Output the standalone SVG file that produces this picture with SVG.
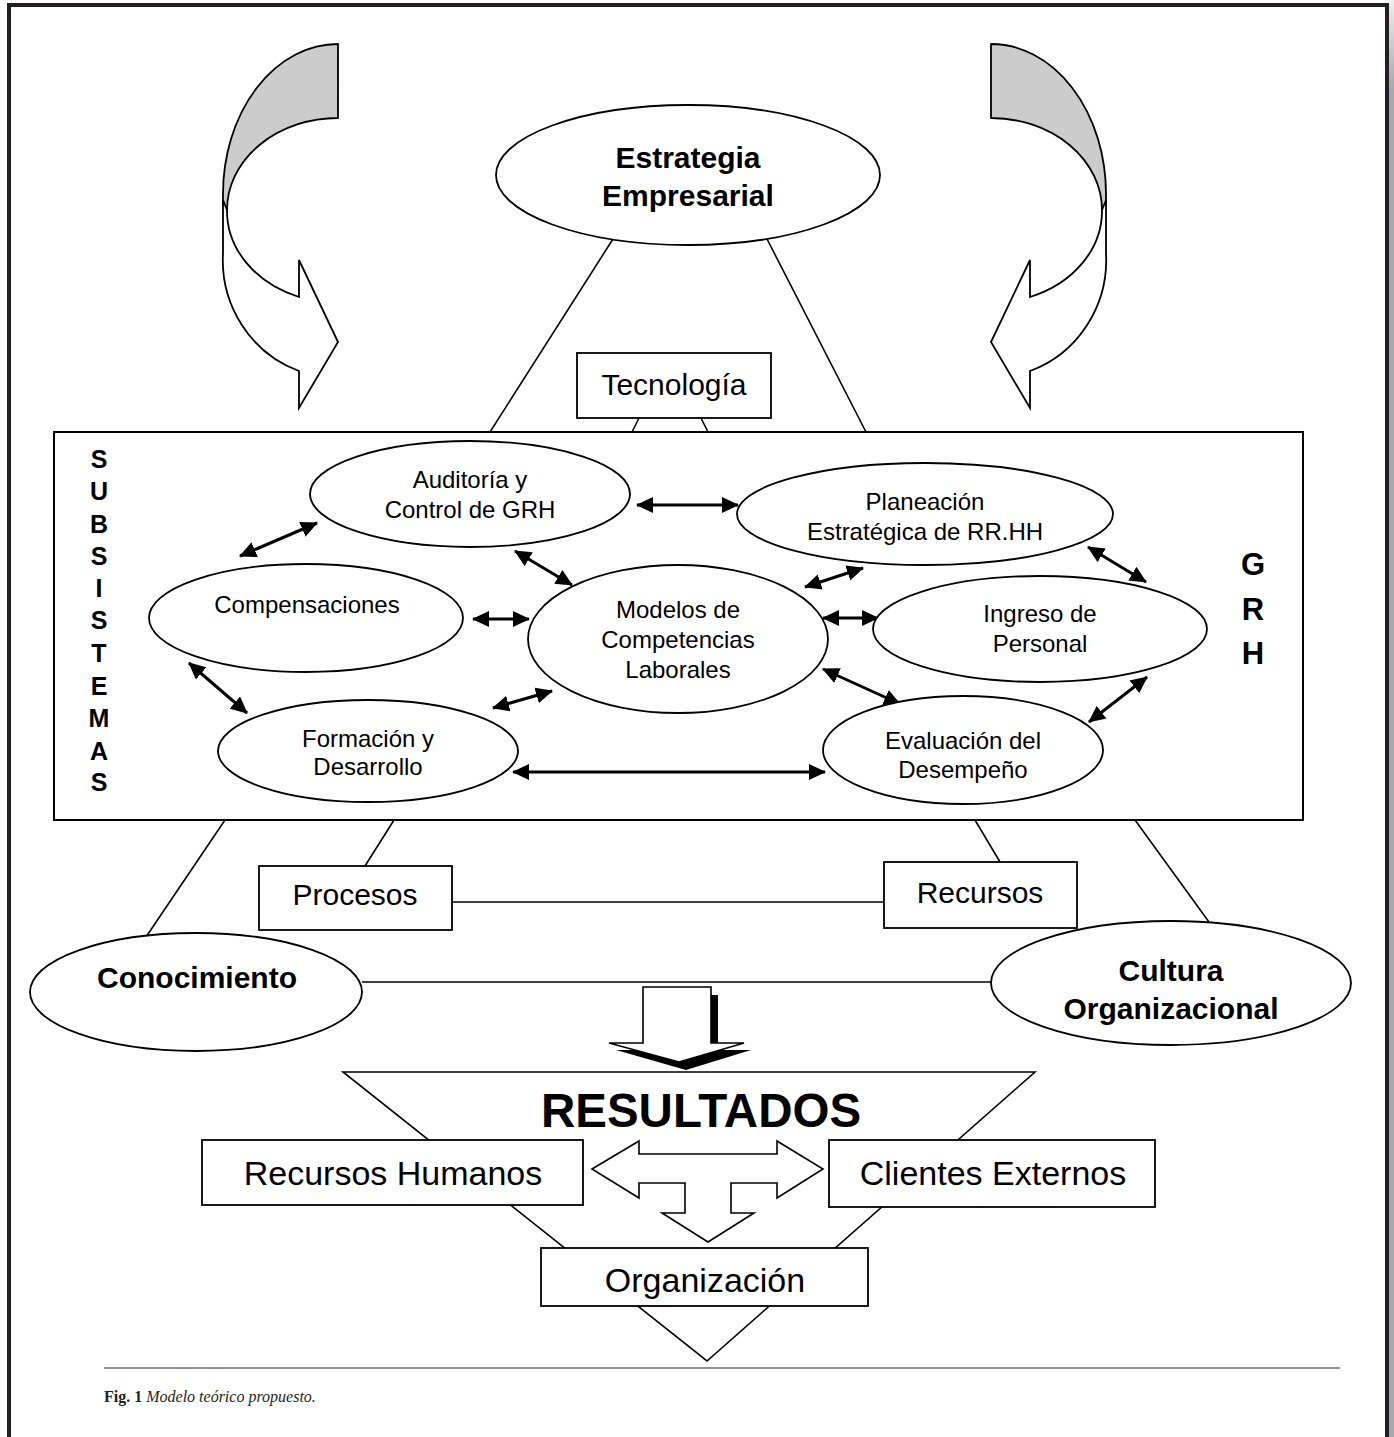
<svg xmlns="http://www.w3.org/2000/svg" xmlns:xlink="http://www.w3.org/1999/xlink" width="1394" height="1437" viewBox="0 0 1394 1437">
<style>
.ln{stroke:#000;stroke-width:1.6;fill:none}
.ar{stroke:#000;stroke-width:3;fill:none;marker-start:url(#ah);marker-end:url(#ah)}
.el{fill:#fff;stroke:#000;stroke-width:1.8}
.bx{fill:#fff;stroke:#000;stroke-width:1.8}
.t{font-family:"Liberation Sans",Arial,sans-serif;fill:#000;text-anchor:middle}
.s24{font-size:24px}
.s30{font-size:30px}
.s34{font-size:34px}
.b{font-weight:bold}
.gray{fill:#cccccc;stroke:#000;stroke-width:1.8;stroke-linejoin:round}
.wh{fill:#fff;stroke:#000;stroke-width:1.8;stroke-linejoin:miter}
</style>
<defs>
<marker id="ah" viewBox="0 0 17 16" markerWidth="17" markerHeight="16" refX="16" refY="8" orient="auto-start-reverse" markerUnits="userSpaceOnUse">
<path d="M0,0 L17,8 L0,16 Z" fill="#000"/>
</marker>
<linearGradient id="shade" x1="0" y1="0" x2="0" y2="1">
<stop offset="0" stop-color="#f0f0f0"/>
<stop offset="0.06" stop-color="#a7a9ac"/>
<stop offset="1" stop-color="#a7a9ac"/>
</linearGradient>
<g id="curv">
<path class="gray" d="M338,44 A115,150 0 0 0 223,194 L223,205 L227,210 A111,92 0 0 1 338,118 Z"/>
<path class="wh" d="M227,210 A111,92 0 0 0 299,297 L299,260 L338,342 L299,408 L299,371 A115,118 0 0 1 223,253 L223,200 Z"/>
</g>
</defs>

<rect width="1394" height="1437" fill="#fff"/>
<g id="frame">
<rect x="1389" y="0" width="5" height="1437" fill="url(#shade)"/>
<path d="M9,1437 V5 H1387 V1437" fill="none" stroke="#231f20" stroke-width="4"/>
</g>

<g id="curved-arrow-left"><use xlink:href="#curv"/></g>
<g id="curved-arrow-right"><use xlink:href="#curv" transform="matrix(-1 0 0 1 1329 0)"/></g>

<g id="resultados-triangle">
<polygon points="343,1072 1035,1072 707,1361" fill="#fff" stroke="#000" stroke-width="1.6"/>
<text class="t b" x="701" y="1127" font-size="47.5">RESULTADOS</text>
</g>

<g id="grh">
<rect x="54" y="432" width="1249" height="388" fill="none" stroke="#000" stroke-width="2"/>
<g class="t b" font-size="25">
<text x="99" y="468">S</text><text x="99" y="500">U</text><text x="99" y="533">B</text><text x="99" y="565">S</text><text x="99" y="597">I</text><text x="99" y="629">S</text><text x="99" y="662">T</text><text x="99" y="695">E</text><text x="99" y="727">M</text><text x="99" y="760">A</text><text x="99" y="791">S</text>
</g>
<g class="t b" font-size="31">
<text x="1253" y="575">G</text><text x="1253" y="620">R</text><text x="1253" y="664">H</text>
</g>
</g>

<g id="connectors">
<line class="ln" x1="613" y1="239" x2="490" y2="432"/>
<line class="ln" x1="767" y1="239" x2="866" y2="432"/>
<line class="ln" x1="639" y1="418" x2="632" y2="432"/>
<line class="ln" x1="701" y1="418" x2="708" y2="432"/>
<line class="ln" x1="225" y1="820" x2="146" y2="937"/>
<line class="ln" x1="394" y1="820" x2="365" y2="866"/>
<line class="ln" x1="975" y1="820" x2="1000" y2="862"/>
<line class="ln" x1="1135" y1="820" x2="1209" y2="922"/>
<line class="ln" x1="452" y1="902" x2="884" y2="902"/>
<line class="ln" x1="362" y1="982" x2="991" y2="982"/>
<line class="ar" x1="240" y1="556" x2="317" y2="523"/>
<line class="ar" x1="637" y1="505" x2="738" y2="505"/>
<line class="ar" x1="515" y1="551" x2="572" y2="585"/>
<line class="ar" x1="805" y1="587" x2="863" y2="568"/>
<line class="ar" x1="473" y1="619" x2="529" y2="619"/>
<line class="ar" x1="823" y1="618" x2="878" y2="618"/>
<line class="ar" x1="1088" y1="547" x2="1146" y2="582"/>
<line class="ar" x1="823" y1="669" x2="900" y2="704"/>
<line class="ar" x1="1147" y1="677" x2="1089" y2="722"/>
<line class="ar" x1="189" y1="663" x2="247" y2="713"/>
<line class="ar" x1="493" y1="708" x2="552" y2="691"/>
<line class="ar" x1="513" y1="772" x2="825" y2="772"/>
</g>

<g id="estrategia">
<ellipse class="el" cx="688" cy="175" rx="192" ry="70"/>
<text class="t b s30" x="688" y="168">Estrategia</text>
<text class="t b s30" x="688" y="206">Empresarial</text>
</g>

<g id="tecnologia">
<rect class="bx" x="577" y="353" width="194" height="65"/>
<text class="t s30" x="674" y="395">Tecnología</text>
</g>

<g id="auditoria">
<ellipse class="el" cx="470" cy="494" rx="160" ry="53"/>
<text class="t s24" x="470" y="488">Auditoría y</text>
<text class="t s24" x="470" y="518">Control de GRH</text>
</g>

<g id="planeacion">
<ellipse class="el" cx="925" cy="514" rx="188" ry="51"/>
<text class="t s24" x="925" y="510">Planeación</text>
<text class="t s24" x="925" y="540">Estratégica de RR.HH</text>
</g>

<g id="compensaciones">
<ellipse class="el" cx="306" cy="618" rx="157" ry="54"/>
<text class="t s24" x="307" y="613">Compensaciones</text>
</g>

<g id="modelos">
<ellipse class="el" cx="678" cy="639" rx="150" ry="74"/>
<text class="t s24" x="678" y="618">Modelos de</text>
<text class="t s24" x="678" y="648">Competencias</text>
<text class="t s24" x="678" y="678">Laborales</text>
</g>

<g id="ingreso">
<ellipse class="el" cx="1040" cy="629" rx="167" ry="53"/>
<text class="t s24" x="1040" y="622">Ingreso de</text>
<text class="t s24" x="1040" y="652">Personal</text>
</g>

<g id="formacion">
<ellipse class="el" cx="368" cy="751" rx="150" ry="51"/>
<text class="t s24" x="368" y="747">Formación y</text>
<text class="t s24" x="368" y="775">Desarrollo</text>
</g>

<g id="evaluacion">
<ellipse class="el" cx="963" cy="750" rx="140" ry="54"/>
<text class="t s24" x="963" y="749">Evaluación del</text>
<text class="t s24" x="963" y="778">Desempeño</text>
</g>

<g id="procesos">
<rect class="bx" x="259" y="866" width="193" height="64"/>
<text class="t s30" x="355" y="905">Procesos</text>
</g>

<g id="recursos">
<rect class="bx" x="884" y="862" width="193" height="66"/>
<text class="t s30" x="980" y="903">Recursos</text>
</g>

<g id="conocimiento">
<ellipse class="el" cx="196" cy="992" rx="166" ry="59"/>
<text class="t b s30" x="197" y="988">Conocimiento</text>
</g>

<g id="cultura">
<ellipse class="el" cx="1171" cy="983" rx="180" ry="62"/>
<text class="t b s30" x="1171" y="981">Cultura</text>
<text class="t b s30" x="1171" y="1019">Organizacional</text>
</g>

<g id="down-arrow">
<path d="M650,995 H718 V1050 H751 L686,1070 L616,1050 H650 Z" fill="#000"/>
<path d="M643,987 H711 V1043 H744 L679,1062 L609,1043 H643 Z" fill="#fff" stroke="#000" stroke-width="1.6"/>
</g>

<g id="recursos-humanos">
<rect class="bx" x="202" y="1140" width="381" height="65"/>
<text class="t s34" x="393" y="1185">Recursos Humanos</text>
</g>

<g id="clientes-externos">
<rect class="bx" x="829" y="1140" width="326" height="67"/>
<text class="t s34" x="993" y="1185">Clientes Externos</text>
</g>

<g id="three-way-arrow">
<path d="M592,1169 L639,1141 L639,1154 L777,1154 L777,1141 L823,1169 L777,1198 L777,1183 L731,1183 L731,1213 L754,1213 L708,1242 L662,1213 L685,1213 L685,1183 L639,1183 L639,1198 Z" fill="#fff" stroke="#000" stroke-width="1.6" stroke-linejoin="miter"/>
</g>

<g id="organizacion">
<rect class="bx" x="541" y="1248" width="327" height="58"/>
<text class="t s34" x="705" y="1292">Organización</text>
</g>

<g id="caption">
<line x1="104" y1="1368" x2="1340" y2="1368" stroke="#6d6e71" stroke-width="1.6"/>
<text x="104" y="1402" font-family="Liberation Serif,'Times New Roman',serif" font-size="16" fill="#231f20"><tspan font-weight="bold">Fig. 1</tspan> <tspan font-style="italic">Modelo teórico propuesto.</tspan></text>
</g>
</svg>
